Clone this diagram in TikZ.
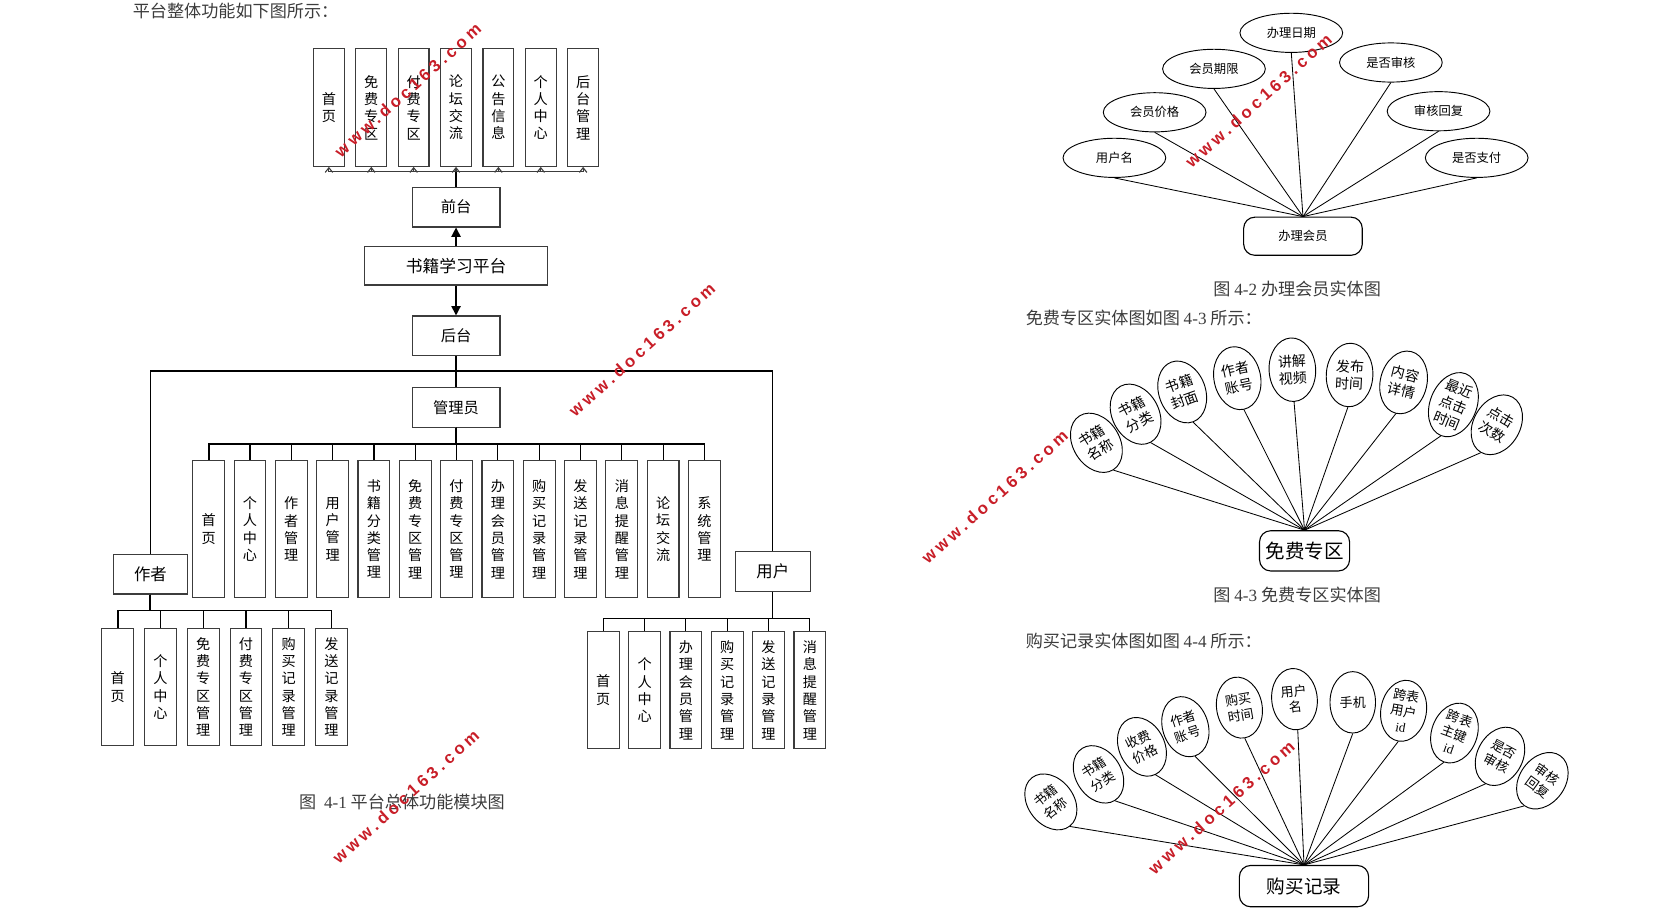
\documentclass[tikz,border=0pt]{standalone}
\usepackage{fontspec}
\setmainfont{Noto Sans CJK SC}
\newfontfamily\lat{Liberation Serif}
\newfontfamily\wmfont[LetterSpace=23]{Liberation Sans}
\usetikzlibrary{shapes.geometric,arrows.meta}
\definecolor{wmred}{RGB}{200,30,40}
\definecolor{boxline}{RGB}{60,60,60}
\definecolor{captext}{RGB}{60,60,60}

\begin{document}
\begin{tikzpicture}[x=0.02cm,y=-0.02cm,
    >={Straight Barb[length=2.5pt,width=4pt]},
    every node/.style={inner sep=0pt},
    vbox/.style={draw=boxline,line width=0.6pt,minimum width=0.6cm,minimum height=2.22cm,
      align=center,font=\fontsize{7.6}{9.3}\selectfont},
    hbox/.style={draw=boxline,line width=0.6pt,minimum width=1.66cm,minimum height=0.75cm,
      font=\fontsize{8.2}{9}\selectfont},
    bus/.style={line width=1pt},
    tri/.style={-{Triangle[length=5pt,width=5pt]},line width=0.7pt},
    entity/.style={draw,rounded corners=6pt,line width=0.6pt},
    attr/.style={draw,ellipse,line width=0.5pt,align=center},
    link/.style={line width=0.45pt},
    caption/.style={text=captext,font=\fontsize{9.2}{10}\selectfont},
    wm/.style={text=wmred,font=\wmfont\bfseries\fontsize{9}{10}\selectfont,rotate=42}
  ]
  \useasboundingbox (0,0) rectangle (1568,869);

  % ---- figure 4-1: platform modules
  \node[caption,anchor=west] (title1) at (125,10) {平台整体功能如下图所示：};

  \node[hbox] (qian) at (430.5,195.5) {前台};
  \node[hbox,minimum width=3.46cm,minimum height=0.72cm,font=\fontsize{9}{10}\selectfont] (plat) at (430.5,251) {书籍学习平台};
  \node[hbox] (hou) at (430.5,317) {后台};
  \node[hbox] (guan) at (430.5,384.5) {管理员};
  \node[hbox,minimum width=1.4cm,font=\fontsize{8.8}{9}\selectfont] (zuozhe) at (142,542) {作者};
  \node[hbox,minimum width=1.42cm,font=\fontsize{8.8}{9}\selectfont] (yonghu) at (729.5,539.5) {用户};

  % front end row
  \foreach \t [count=\i] in {{首\\页},{免\\费\\专\\区},{付\\费\\专\\区},{论\\坛\\交\\流},
      {公\\告\\信\\息},{个\\人\\中\\心},{后\\台\\管\\理}}
    \node[vbox,minimum width=0.58cm] (top\i) at ({310.5+40*(\i-1)},101.5) {\t};

  % admin row
  \foreach \t [count=\i] in {{首\\页},{个\\人\\中\\心},{作\\者\\管\\理},{用\\户\\管\\理},
      {书\\籍\\分\\类\\管\\理},{免\\费\\专\\区\\管\\理},{付\\费\\专\\区\\管\\理},
      {办\\理\\会\\员\\管\\理},{购\\买\\记\\录\\管\\理},{发\\送\\记\\录\\管\\理},
      {消\\息\\提\\醒\\管\\理},{论\\坛\\交\\流},{系\\统\\管\\理}}
    \node[vbox,minimum height=2.58cm] (adm\i) at ({197+39*(\i-1)},499.5) {\t};

  % author row
  \foreach \t [count=\i] in {{首\\页},{个\\人\\中\\心},{免\\费\\专\\区\\管\\理},
      {付\\费\\专\\区\\管\\理},{购\\买\\记\\录\\管\\理},{发\\送\\记\\录\\管\\理}}
    \node[vbox] (aut\i) at ({111+40.4*(\i-1)},648.5) {\t};

  % user row
  \foreach \t [count=\i] in {{首\\页},{个\\人\\中\\心},{办\\理\\会\\员\\管\\理},
      {购\\买\\记\\录\\管\\理},{发\\送\\记\\录\\管\\理},{消\\息\\提\\醒\\管\\理}}
    \node[vbox] (usr\i) at ({569.5+39*(\i-1)},651.5) {\t};

  \foreach \i in {1,...,7}
    \draw[->,draw=boxline,line width=0.6pt] (qian.north) -- ++(0,-14) -| (top\i.south);
  \draw[bus] (qian.north) -- ++(0,-14);
  \draw[tri] (plat.north) -- (qian.south);
  \draw[tri] (plat.south) -- (hou.north);
  \draw[line width=0.7pt] (hou.south) -- (guan.north);
  \draw[line width=0.7pt] (hou.south) -- ++(0,14) coordinate (split) -| (zuozhe.north);
  \draw[line width=0.7pt] (split) -| (yonghu.north);
  \foreach \i in {1,...,13}
    \draw[line width=0.6pt] (guan.south) -- ++(0,15) -| (adm\i.north);
  \draw[bus] (guan.south) -- ++(0,15) -| (adm13.north);
  \draw[bus] (guan.south) -- ++(0,15) -| (adm1.north);
  \foreach \i in {1,...,6}
    \draw[line width=0.6pt] (zuozhe.south) -- ++(0,15) -| (aut\i.north);
  \draw[bus] (zuozhe.south) -- ++(0,15) -| (aut6.north);
  \draw[bus] (zuozhe.south) -- ++(0,15) -| (aut1.north);
  \foreach \i in {1,...,6}
    \draw[line width=0.6pt] (yonghu.south) -- ++(0,25) -| (usr\i.north);

  \node[caption] (cap1) at (379.5,757) {图\ \ {\lat 4-1} 平台总体功能模块图};

  % ---- figure 4-2: membership entity
  \node[entity,minimum width=2.24cm,minimum height=0.72cm,font=\fontsize{6.6}{8}\selectfont] (banli) at (1230,223) {办理会员};
  \foreach \t/\x/\y [count=\i] in {用户名/1052/149,会员价格/1090/106,会员期限/1146/65,
      办理日期/1219/31,是否审核/1313/59,审核回复/1358/105,是否支付/1394/149}
  {
    \node[attr,minimum width=1.94cm,minimum height=0.74cm,font=\fontsize{6.6}{8}\selectfont] (hy\i) at (\x,\y) {\t};
    \draw[link] (banli.north) -- (hy\i.south);
  }
  \node[caption] (cap2) at (1224.5,273) {图 {\lat 4-2} 办理会员实体图};

  % ---- figure 4-3: free zone entity
  \node[caption,anchor=west] (title3) at (968,300) {免费专区实体图如图 {\lat 4-3} 所示：};
  \node[entity,minimum width=1.7cm,minimum height=0.76cm,font=\fontsize{10.5}{12}\selectfont] (mianfei) at (1231.5,520) {免费专区};
  \foreach \t/\x/\y/\r [count=\i] in {{书籍\\名称}/1035/418/32,{书籍\\分类}/1072/391/28,
      {书籍\\封面}/1116/370/20,{作者\\账号}/1168/357/12,{讲解\\视频}/1220/349/3,
      {发布\\时间}/1274/354/-3,{内容\\详情}/1325/361/-14,{最近\\点击\\时间}/1372/382/-22,
      {点击\\次数}/1413/401/-30}
  {
    \node[attr,rotate=\r,minimum width=0.88cm,minimum height=1.2cm,font=\fontsize{7.5}{9.2}\selectfont] (mf\i) at (\x,\y) {\t};
    \draw[link] (mianfei.north) -- (mf\i.south);
  }
  \node[caption] (cap3) at (1224.5,562) {图 {\lat 4-3} 免费专区实体图};

  % ---- figure 4-4: purchase record entity
  \node[caption,anchor=west] (title4) at (968,605) {购买记录实体图如图 {\lat 4-4} 所示：};
  \node[entity,minimum width=2.44cm,minimum height=0.78cm,font=\fontsize{10}{12}\selectfont] (goumai) at (1231,836.5) {购买记录};
  \foreach \t/\x/\y/\r [count=\i] in {{书籍\\名称}/992/757/38,{书籍\\分类}/1037/731/32,
      {收费\\价格}/1078/705/26,{作者\\账号}/1119/686/18,{购买\\时间}/1170/668/10,
      {用户\\名}/1222/660/6,{手机}/1277/663/0,{跨表\\用户\\{\lat id}}/1325/671/-10,
      {跨表\\主键\\{\lat id}}/1373/692/-20,{是否\\审核}/1416/714/-28,{审核\\回复}/1456/737/-36}
  {
    \node[attr,rotate=\r,minimum width=0.86cm,minimum height=1.16cm,font=\fontsize{7}{8.6}\selectfont] (gm\i) at (\x,\y) {\t};
    \draw[link] (goumai.north) -- (gm\i.south);
  }

  % watermarks
  \node[wm] (wm1) at (385,85) {www.doc163.com};
  \node[wm] (wm2) at (606,330) {www.doc163.com};
  \node[wm] (wm3) at (383,752) {www.doc163.com};
  \node[wm] (wm4) at (939,469) {www.doc163.com};
  \node[wm] (wm5) at (1188,95) {www.doc163.com};
  \node[wm] (wm6) at (1153,762) {www.doc163.com};
\end{tikzpicture}
\end{document}
